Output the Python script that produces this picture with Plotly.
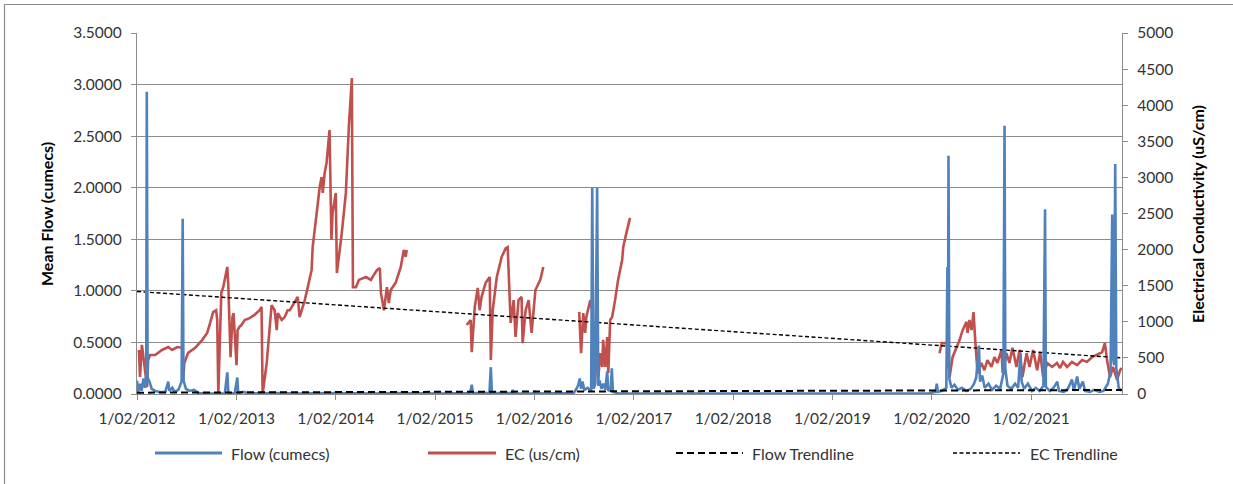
import plotly.graph_objects as go

# ---------------- data ----------------
flow_dates = [
    "2012-02-01", "2012-02-05", "2012-02-12", "2012-02-18", "2012-02-25", "2012-03-02", "2012-03-06",
    "2012-03-08", "2012-03-11", "2012-03-18", "2012-03-26", "2012-04-08", "2012-04-25", "2012-05-15",
    "2012-05-26", "2012-05-30", "2012-06-10", "2012-06-18", "2012-07-02", "2012-07-14", "2012-07-18",
    "2012-07-21", "2012-07-30", "2012-08-12", "2012-08-28", "2012-09-15", "2012-10-10", "2012-12-20",
    "2012-12-29", "2013-01-02", "2013-01-25", "2013-02-04", "2013-02-07", "2013-02-25", "2013-03-20",
    "2013-07-10", "2013-09-15", "2014-01-10", "2014-06-20", "2014-09-05", "2015-02-15", "2015-06-10",
    "2015-06-16", "2015-06-20", "2015-08-20", "2015-08-25", "2015-08-29", "2015-11-10", "2015-11-14",
    "2015-11-18", "2016-01-28", "2016-02-02", "2016-02-06", "2016-06-25", "2016-07-05", "2016-07-12",
    "2016-07-17", "2016-07-22", "2016-07-27", "2016-08-03", "2016-08-15", "2016-08-28", "2016-09-01",
    "2016-09-06", "2016-09-12", "2016-09-19", "2016-09-23", "2016-09-28", "2016-10-05", "2016-10-12",
    "2016-10-19", "2016-10-26", "2016-10-30", "2016-11-08", "2016-11-12", "2016-11-16", "2016-12-10",
    "2017-06-01", "2018-05-01", "2019-05-01", "2020-01-20", "2020-02-15", "2020-02-20", "2020-02-24",
    "2020-03-10", "2020-03-26", "2020-03-30", "2020-04-01", "2020-04-03", "2020-04-06", "2020-04-14",
    "2020-04-25", "2020-05-08", "2020-05-22", "2020-06-08", "2020-06-24", "2020-07-06", "2020-07-14",
    "2020-07-24", "2020-07-28", "2020-08-05", "2020-08-14", "2020-08-28", "2020-09-10", "2020-09-25",
    "2020-10-10", "2020-10-22", "2020-10-26", "2020-10-29", "2020-11-06", "2020-11-20", "2020-12-04",
    "2020-12-15", "2020-12-24", "2020-12-28", "2021-01-06", "2021-01-20", "2021-02-04", "2021-02-18",
    "2021-03-04", "2021-03-18", "2021-03-24", "2021-03-27", "2021-04-10", "2021-04-24", "2021-05-08",
    "2021-05-14", "2021-06-01", "2021-06-16", "2021-07-01", "2021-07-08", "2021-07-20", "2021-07-28",
    "2021-08-10", "2021-08-18", "2021-09-05", "2021-09-20", "2021-10-10", "2021-10-25", "2021-11-10",
    "2021-11-20", "2021-11-26", "2021-11-29", "2021-12-03", "2021-12-07", "2021-12-11", "2021-12-20",
    "2021-12-31",
]
flow_values = [
    0.13, 0.02, 0.10, 0.03, 0.15, 0.06, 0.17,
    2.93, 0.16, 0.12, 0.05, 0.03, 0.02, 0.02,
    0.12, 0.03, 0.06, 0.02, 0.04, 0.12, 1.70,
    0.13, 0.05, 0.03, 0.04, 0.01, 0.005, 0.005,
    0.21, 0.01, 0.005, 0.16, 0.01, 0.02, 0.005,
    0.01, 0.005, 0.01, 0.005, 0.01, 0.005, 0.01,
    0.09, 0.01, 0.01, 0.26, 0.01, 0.01, 0.04,
    0.005, 0.005, 0.03, 0.005, 0.01, 0.05, 0.09,
    0.15, 0.05, 0.12, 0.04, 0.06, 0.03, 2.00,
    0.05, 0.10, 2.00, 0.08, 0.13, 0.05, 0.10,
    0.04, 0.22, 0.03, 0.05, 0.25, 0.02, 0.005,
    0.005, 0.005, 0.005, 0.005, 0.02, 0.10, 0.02,
    0.03, 0.06, 1.23, 0.25, 2.31, 0.15, 0.06,
    0.09, 0.04, 0.06, 0.03, 0.05, 0.10, 0.16,
    0.47, 0.12, 0.18, 0.06, 0.10, 0.04, 0.08,
    0.05, 0.20, 2.60, 0.24, 0.08, 0.05, 0.10,
    0.06, 0.40, 0.12, 0.05, 0.10, 0.03, 0.06,
    0.03, 0.08, 1.79, 0.07, 0.03, 0.06, 0.12,
    0.03, 0.02, 0.05, 0.14, 0.03, 0.17, 0.05,
    0.12, 0.03, 0.02, 0.04, 0.02, 0.03, 0.10,
    0.22, 1.74, 0.35, 0.28, 2.23, 0.25, 0.06,
    0.03,
]

ec_dates = [
    # 2012 - 2014
    "2012-02-08", "2012-02-12", "2012-02-19", "2012-02-27", "2012-03-09", "2012-03-13", "2012-03-20",
    "2012-04-08", "2012-05-03", "2012-05-26", "2012-06-09", "2012-06-28", "2012-07-16", "2012-07-20",
    "2012-07-24", "2012-08-07", "2012-09-02", "2012-09-28", "2012-10-16", "2012-10-27", "2012-11-07",
    "2012-11-18", "2012-11-22", "2012-11-26", "2012-12-07", "2012-12-14", "2012-12-29", "2013-01-02",
    "2013-01-10", "2013-01-17", "2013-01-21", "2013-02-01", "2013-02-05", "2013-02-12", "2013-02-19",
    "2013-03-03", "2013-03-21", "2013-04-08", "2013-04-27", "2013-05-04", "2013-05-08", "2013-05-23",
    "2013-06-03", "2013-06-10", "2013-06-21", "2013-06-29", "2013-07-03", "2013-07-17", "2013-07-28",
    "2013-08-08", "2013-08-16", "2013-09-14", "2013-09-21", "2013-10-10", "2013-10-21", "2013-11-04",
    "2013-11-08", "2013-11-23", "2013-12-04", "2013-12-11", "2013-12-15", "2013-12-22", "2013-12-29",
    "2014-01-09", "2014-01-16", "2014-01-20", "2014-02-01", "2014-02-05", "2014-02-23", "2014-03-10",
    "2014-03-21", "2014-04-01", "2014-04-05", "2014-04-16", "2014-04-27", "2014-05-23", "2014-06-10",
    "2014-06-21", "2014-07-02", "2014-07-13", "2014-07-17", "2014-07-28", "2014-08-08", "2014-08-15",
    "2014-08-22", "2014-09-09", "2014-09-28", "2014-10-09", "2014-10-16", "2014-10-20",
    "2015-01-01",
    # 2015 - 2016
    "2015-05-28", "2015-06-12", "2015-06-16", "2015-06-27", "2015-07-08", "2015-07-15", "2015-07-22",
    "2015-08-06", "2015-08-21", "2015-08-25", "2015-09-01", "2015-09-16", "2015-10-04", "2015-10-19",
    "2015-10-26", "2015-11-06", "2015-11-17", "2015-11-24", "2015-12-05", "2015-12-16", "2015-12-20",
    "2015-12-31", "2016-01-11", "2016-01-22", "2016-02-05", "2016-02-23", "2016-03-05",
    "2016-05-01",
    # 2016 - 2017
    "2016-07-15", "2016-07-22", "2016-07-30", "2016-08-06", "2016-08-10", "2016-08-17", "2016-08-25",
    "2016-09-01", "2016-09-05", "2016-09-12", "2016-09-23", "2016-09-30", "2016-10-08", "2016-10-11",
    "2016-10-19", "2016-10-26", "2016-10-30", "2016-11-06", "2016-11-13", "2016-11-24", "2016-12-05",
    "2016-12-20", "2016-12-24", "2017-01-07", "2017-01-18",
    "2018-06-01",
    # 2020 - 2021
    "2020-03-01", "2020-03-09", "2020-03-31", "2020-04-07", "2020-04-18", "2020-05-03", "2020-05-14",
    "2020-05-25", "2020-06-08", "2020-06-12", "2020-06-19", "2020-06-27", "2020-07-04", "2020-07-11",
    "2020-07-19", "2020-08-02", "2020-08-13", "2020-08-24", "2020-09-08", "2020-09-19", "2020-09-30",
    "2020-10-15", "2020-10-19", "2020-11-02", "2020-11-13", "2020-11-24", "2020-12-09", "2020-12-20",
    "2020-12-31", "2021-01-15", "2021-01-26", "2021-02-08", "2021-02-23", "2021-03-06", "2021-03-17",
    "2021-04-01", "2021-04-19", "2021-05-07", "2021-05-18", "2021-05-29", "2021-06-13", "2021-07-01",
    "2021-07-20", "2021-08-07", "2021-08-25", "2021-09-13", "2021-10-01", "2021-10-20", "2021-10-30",
    "2021-11-07", "2021-11-18", "2021-11-29", "2021-12-14", "2021-12-25", "2021-12-31",
]
ec_values = [
    610, 235, 680, 430, 97, 470, 540,
    540, 610, 650, 610, 650, 640, 195,
    430, 570, 640, 750, 845, 985, 1135,
    1160, 1025, 0, 1400, 1480, 1760, 1480,
    510, 1065, 1120, 400, 885, 930, 955,
    1025, 1050, 1095, 1160, 1205, 0, 430,
    885, 1230, 1160, 885, 1120, 1025, 1065,
    1160, 1160, 1345, 1065, 1300, 1480, 1715,
    2035, 2550, 2870, 3005, 2785, 3060, 3200,
    3655, 2135, 2505, 2785, 1675, 2230, 2785,
    3700, 4375, 1480, 1480, 1580, 1620, 1580,
    1650, 1715, 1745, 1400, 1160, 1480, 1260,
    1440, 1540, 1760, 1995, 1900, 1995,
    None,
    955, 1025, 580, 1205, 1470, 1160, 1345,
    1540, 1620, 470, 1160, 1620, 1900, 2020,
    2035, 985, 1300, 790, 1300, 1345, 705,
    1160, 1300, 845, 1440, 1580, 1760,
    None,
    1135, 565, 1120, 845, 1065, 1160, 1300,
    1160, 290, 705, 195, 565, 375, 750,
    375, 790, 290, 1025, 1065, 1300, 1580,
    1855, 2035, 2270, 2440,
    None,
    565, 705, 705, 235, 510, 650, 750,
    885, 1000, 845, 1025, 885, 1135, 705,
    290, 430, 330, 470, 375, 510, 430,
    610, 290, 565, 430, 640, 375, 610,
    235, 565, 375, 610, 330, 580, 235,
    430, 375, 430, 360, 445, 375, 445,
    400, 470, 445, 510, 540, 580, 705,
    470, 235, 375, 195, 330, 360,
]

trend_dates = ["2012-02-01", "2022-01-01"]
flow_trend = [0.013, 0.039]
ec_trend = [1420, 500]

x_tick_dates = ["2012-02-01", "2013-02-01", "2014-02-01", "2015-02-01", "2016-02-01",
                "2017-02-01", "2018-02-01", "2019-02-01", "2020-02-01", "2021-02-01"]
x_tick_labels = ["1/02/2012", "1/02/2013", "1/02/2014", "1/02/2015", "1/02/2016",
                 "1/02/2017", "1/02/2018", "1/02/2019", "1/02/2020", "1/02/2021"]

legend_names = ["Flow (cumecs)", "EC (us/cm)", "Flow Trendline", "EC Trendline"]

# ---------------- styling ----------------
BLUE = "#4F81BD"
RED = "#C0504D"
GRID = "#8C8C8C"
AXIS = "#8C8C8C"
TXT = "#333333"
FONT = "Lato, 'Open Sans', sans-serif"

W, H = 1233, 484
L, R, T, B = 137, 1122, 33, 394
PW, PH = R - L, B - T


def px(x):
    return (x - L) / PW


def py(y):
    return (B - y) / PH


fig = go.Figure()

# EC on primary (right-side) axis, flow on overlaying axis so flow draws on top
fig.add_trace(go.Scatter(x=ec_dates, y=ec_values, mode="lines", name=legend_names[1],
                         line=dict(color=RED, width=2.6), connectgaps=False,
                         yaxis="y", showlegend=False))
fig.add_trace(go.Scatter(x=flow_dates, y=flow_values, mode="lines", name=legend_names[0],
                         line=dict(color=BLUE, width=2.6), yaxis="y2", showlegend=False))
fig.add_trace(go.Scatter(x=trend_dates, y=ec_trend, mode="lines", name=legend_names[3],
                         line=dict(color="black", width=1.4, dash="4px,2.5px"),
                         yaxis="y", showlegend=False))
fig.add_trace(go.Scatter(x=trend_dates, y=flow_trend, mode="lines", name=legend_names[2],
                         line=dict(color="black", width=2, dash="7px,4px"),
                         yaxis="y2", showlegend=False))

tickfont = dict(family=FONT, size=15.5, color=TXT)

fig.update_layout(
    width=W, height=H,
    margin=dict(l=L, r=W - R, t=T, b=H - B),
    paper_bgcolor="white", plot_bgcolor="white",
    showlegend=False,
    xaxis=dict(
        type="date", range=["2012-02-01", "2022-01-01"],
        tickmode="array", tickvals=x_tick_dates, ticktext=x_tick_labels,
        ticks="outside", ticklen=5, tickcolor=AXIS, tickwidth=1,
        showline=True, linecolor=AXIS, linewidth=1.2,
        showgrid=False, zeroline=False, tickfont=tickfont,
        ticklabelstandoff=5,
    ),
    yaxis=dict(
        side="right", range=[0, 5000], dtick=500, tick0=0, tickformat="d",
        ticks="outside", ticklen=5, tickcolor=AXIS,
        showline=True, linecolor=AXIS, linewidth=1.2,
        showgrid=False, zeroline=False, tickfont=tickfont,
        ticklabelstandoff=6,
    ),
    yaxis2=dict(
        overlaying="y", side="left", range=[0, 3.5], dtick=0.5, tick0=0, tickformat=".4f",
        ticks="outside", ticklen=5, tickcolor=AXIS,
        showline=True, linecolor=AXIS, linewidth=1.2,
        showgrid=True, gridcolor=GRID, gridwidth=1.3, zeroline=False, tickfont=tickfont,
        ticklabelstandoff=6,
    ),
)

# axis titles
title_font = dict(family=FONT, size=16, color="black", weight="bold")
fig.add_annotation(text="Mean Flow (cumecs)", xref="paper", yref="paper",
                   x=px(46), y=py(214), textangle=-90, showarrow=False,
                   font=title_font, xanchor="center", yanchor="middle")
fig.add_annotation(text="Electrical Conductivity (uS/cm)", xref="paper", yref="paper",
                   x=px(1197), y=py(214), textangle=-90, showarrow=False,
                   font=title_font, xanchor="center", yanchor="middle")

# custom legend (line samples + labels)
leg_y = py(453)
leg_items = [
    (155, 222, 229, dict(color=BLUE, width=3)),
    (428, 496, 503, dict(color=RED, width=3)),
    (676, 743, 750, dict(color="black", width=2, dash="7px,4px")),
    (953, 1020, 1028, dict(color="black", width=1.4, dash="4px,2.5px")),
]
for (x0, x1, xt, ln), name in zip(leg_items, legend_names):
    fig.add_shape(type="line", xref="paper", yref="paper", x0=px(x0), x1=px(x1),
                  y0=leg_y, y1=leg_y, line=ln)
    fig.add_annotation(text=name, xref="paper", yref="paper", x=px(xt), y=leg_y,
                       showarrow=False, xanchor="left", yanchor="middle",
                       font=dict(family=FONT, size=16, color=TXT))

# chart-area frame (left and top edges visible in the reference)
fig.add_shape(type="line", xref="paper", yref="paper", x0=px(4.5), x1=px(4.5),
              y0=py(4.5), y1=py(490), line=dict(color="#8A8A8A", width=1.2))
fig.add_shape(type="line", xref="paper", yref="paper", x0=px(4.5), x1=px(1240),
              y0=py(4.5), y1=py(4.5), line=dict(color="#8A8A8A", width=1.2))

fig.write_html("out.html")
